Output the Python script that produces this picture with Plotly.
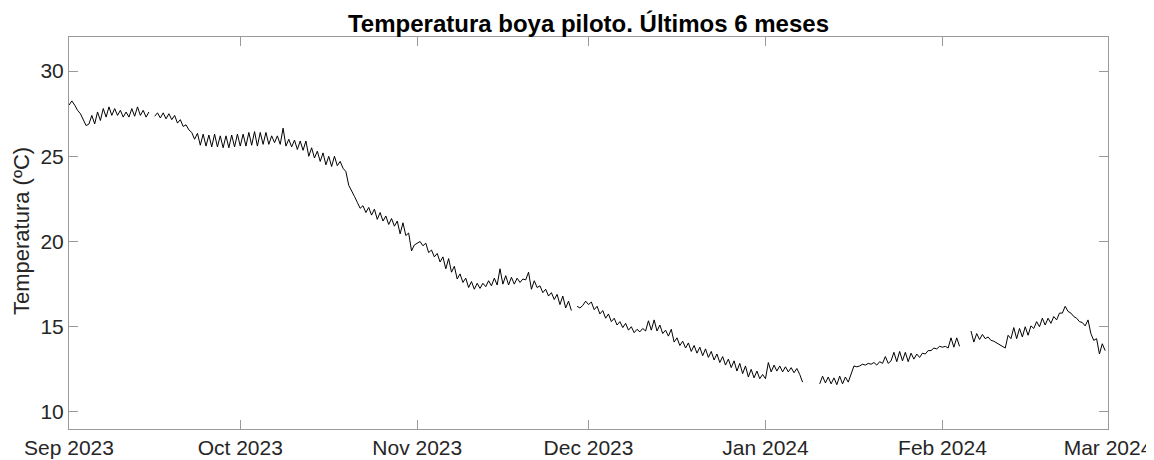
import plotly.graph_objects as go
import pandas as pd

# Temperatura (ºC) — two readings per day (00h, 12h), None = no data
temp_sep = [28.0, 28.25, 28.0, 27.7, 27.5, 27.1, 26.8, 26.9, 27.4, 26.9,
            27.6, 27.1, 27.8, 27.3, 27.9, 27.4, 27.8, 27.4, 27.7, 27.3,
            27.6, 27.3, 27.8, 27.35, 27.9, 27.4, 27.7, 27.3, 27.6, None,
            27.35, 27.55, 27.25, 27.55, 27.2, 27.5, 27.15, 27.4, 26.95, 27.15,
            26.75, 26.85, 26.55, 26.4, 26.0, 26.35, 25.65, 26.3, 25.6, 26.25,
            25.55, 26.3, 25.55, 26.2, 25.5, 26.2, 25.5, 26.25, 25.55, 26.3]
temp_oct = [25.6, 26.3, 25.6, 26.4, 25.65, 26.45, 25.6, 26.4, 25.7, 26.4,
            25.7, 26.2, 25.8, 26.2, 25.7, 26.65, 25.6, 26.0, 25.55, 25.95,
            25.4, 25.9, 25.35, 25.9, 25.0, 25.5, 24.9, 25.3, 24.7, 25.2,
            24.5, 25.0, 24.4, 25.0, 24.45, 24.7, 24.3, 24.1, 23.3, 23.0,
            22.65, 22.3, 21.95, 22.1, 21.7, 22.0, 21.55, 21.9, 21.3, 21.7,
            21.2, 21.5, 21.0, 21.35, 20.9, 21.2, 20.45, 21.1, 20.35, 20.5,
            19.45, 19.8]
temp_nov = [19.9, 20.0, 19.75, 19.9, 19.35, 19.5, 19.1, 19.3, 18.8, 19.1,
            18.4, 19.0, 18.2, 18.55, 17.8, 18.1, 17.6, 17.85, 17.3, 17.65,
            17.2, 17.55, 17.25, 17.55, 17.35, 17.7, 17.4, 17.85, 17.45, 18.4,
            17.5, 18.0, 17.45, 17.9, 17.5, 17.85, 17.6, 17.8, 17.75, 18.2,
            17.2, 17.7, 17.3, 17.4, 17.0, 17.2, 16.8, 17.0, 16.6, 16.9,
            16.3, 16.8, 16.1, 16.5, 15.95, None, 16.2, 16.1, 16.25, 16.5]
temp_dec = [16.3, 16.45, 16.0, 16.2, 15.75, 15.95, 15.5, 15.75, 15.3, 15.5,
            15.1, 15.3, 14.95, 15.2, 14.8, 15.0, 14.65, 14.85, 14.7, 14.9,
            14.75, 15.35, 14.8, 15.4, 14.75, 15.1, 14.6, 14.8, 14.45, 14.85,
            14.1, 14.35, 13.9, 14.15, 13.75, 14.05, 13.55, 13.9, 13.45, 13.8,
            13.3, 13.7, 13.2, 13.55, 13.05, 13.4, 12.9, 13.25, 12.75, 13.1,
            12.6, 13.0, 12.4, 12.85, 12.25, 12.7, 12.05, 12.5, 12.0, 12.4,
            11.95, 12.2]
temp_jan = [11.95, 12.9, 12.35, 12.75, 12.4, 12.7, 12.35, 12.65, 12.35, 12.6,
            12.3, 12.55, 12.2, 11.75, None, None, None, None, None, 11.65,
            12.1, 11.7, 12.05, 11.65, 12.0, 11.6, 12.1, 11.65, 12.05, 11.75,
            12.2, 12.7, 12.65, 12.7, 12.8, 12.75, 12.85, 12.8, 12.9, 12.75,
            12.95, 12.85, 13.25, 12.85, 13.0, 13.5, 12.95, 13.55, 13.0, 13.5,
            12.95, 13.45, 13.1, 13.4, 13.2, 13.45, 13.4, 13.6, 13.6, 13.75,
            13.7, 13.85]
temp_feb = [13.8, 13.85, 13.75, 14.35, 13.8, 14.35, 13.85, None, None, None,
            14.75, 14.1, 14.6, 14.25, 14.55, 14.3, 14.4, 14.2, 14.15, 14.05,
            13.9, 13.85, 13.75, 14.5, 14.3, 14.95, 14.3, 14.9, 14.4, 15.0,
            14.5, 15.05, 14.9, 15.3, 15.0, 15.5, 15.1, 15.5, 15.2, 15.6,
            15.4, 15.8, 15.8, 16.2, 15.9, 15.8, 15.6, 15.5, 15.3, 15.25,
            15.05, 15.4, 14.6, 14.2, 14.3, 13.4, 14.0, 13.6]

month_ticks = ["2023-09-01", "2023-10-01", "2023-11-01", "2023-12-01",
               "2024-01-01", "2024-02-01", "2024-03-01"]
month_labels = ["Sep 2023", "Oct 2023", "Nov 2023", "Dec 2023",
                "Jan 2024", "Feb 2024", "Mar 2024"]
y_ticks = [10, 15, 20, 25, 30]

temp = temp_sep + temp_oct + temp_nov + temp_dec + temp_jan + temp_feb
times = pd.date_range("2023-09-01", periods=len(temp), freq="12h")

AXIS = "#9a9a9a"
FONT = "Liberation Sans, Arial, sans-serif"
# the page body keeps its default 8px margin, so the figure is shifted by 8
W, H = 1146, 452
L, R, T, B = 61, 46, 29, 31
PH = H - T - B


def px_to_paper(xp, yp):
    """figure pixel position -> paper coords"""
    return (xp - L) / (W - L - R), (H - B - yp) / PH


fig = go.Figure()
fig.add_trace(go.Scatter(x=times, y=temp, mode="lines",
                         line=dict(color="#000000", width=1),
                         showlegend=False))

fig.update_layout(
    width=W, height=H,
    paper_bgcolor="white", plot_bgcolor="white",
    margin=dict(l=L, r=R, t=T, b=B, autoexpand=False),
    font=dict(family=FONT, color="#262626", size=21),
    title=dict(text="<b>Temperatura boya piloto. Últimos 6 meses</b>",
               x=0.5, xref="paper", xanchor="center",
               y=1 - 16 / H, yanchor="middle",
               font=dict(size=24, color="#000000")),
)

fig.update_xaxes(
    range=["2023-09-01", "2024-03-01"],
    tickvals=month_ticks, ticktext=month_labels,
    showline=True, linecolor=AXIS, linewidth=1, mirror="ticks",
    ticks="inside", ticklen=9, tickcolor=AXIS, tickwidth=1,
    showgrid=False, zeroline=False, automargin=False,
)
fig.update_yaxes(
    range=[9, 32], tickvals=y_ticks,
    showline=True, linecolor=AXIS, linewidth=1, mirror="ticks",
    ticks="inside", ticklen=9, tickcolor=AXIS, tickwidth=1,
    ticklabelstandoff=0,
    showgrid=False, zeroline=False, automargin=False,
)

# y label as annotation, placed like the original
lx, ly = px_to_paper(13, 223)
fig.add_annotation(text="Temperatura (ºC)", textangle=-90, showarrow=False,
                   xref="paper", yref="paper", x=lx, y=ly,
                   xanchor="center", yanchor="middle",
                   font=dict(size=22, color="#262626"))

fig.write_html("out.html")
